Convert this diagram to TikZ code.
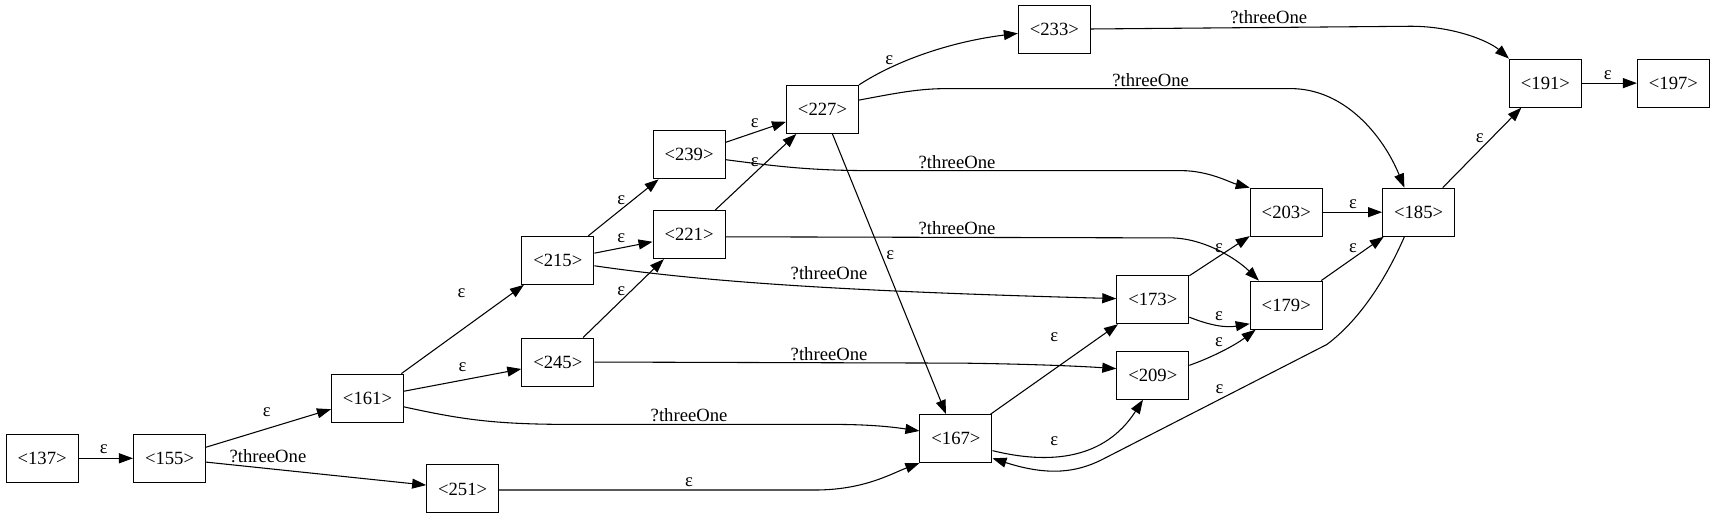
\documentclass[tikz,border=0pt]{standalone}
\usepackage{fontspec}
\setmainfont{Liberation Serif}
\usetikzlibrary{arrows.meta,calc}
\begin{document}
\begin{tikzpicture}[x=0.8203pt,y=-0.8203pt,
  st/.style={draw,line width=0.8pt,rectangle,minimum width=54pt,minimum height=36pt,inner sep=1pt,font=\fontsize{14pt}{16pt}\selectfont},
  e/.style={line width=0.8pt,-{Triangle[length=10.5pt,width=7.5pt]}},
  lbl/.style={inner sep=0pt,font=\fontsize{14pt}{16pt}\selectfont}]
\useasboundingbox (0,0) rectangle (1568,475);
% nodes
\node[st] (n137) at (38.5,419) {<137>};
\node[st] (n155) at (155,419) {<155>};
\node[st] (n161) at (336,364) {<161>};
\node[st] (n251) at (423,447) {<251>};
\node[st] (n215) at (510,238) {<215>};
\node[st] (n245) at (510,331) {<245>};
\node[st] (n239) at (630,141.5) {<239>};
\node[st] (n221) at (630,214.5) {<221>};
\node[st] (n227) at (752,100) {<227>};
\node[st] (n233) at (964,27) {<233>};
\node[st] (n167) at (874,401) {<167>};
\node[st] (n173) at (1054,274) {<173>};
\node[st] (n209) at (1054,343) {<209>};
\node[st] (n203) at (1176,194) {<203>};
\node[st] (n179) at (1176,279) {<179>};
\node[st] (n185) at (1297,194) {<185>};
\node[st] (n191) at (1413,76) {<191>};
\node[st] (n197) at (1530,76) {<197>};
% edges
\draw[e] (n137) -- (n155) node[lbl,at={(95,411)}] {ε};
\draw[e] (n155) -- (n161) node[lbl,at={(244,377)}] {ε};
\draw[e] (n155) -- (n251) node[lbl,at={(245,417)}] {?threeOne};
\draw[e] (n161) -- (n215) node[lbl,at={(422,268)}] {ε};
\draw[e] (n161) -- (n245) node[lbl,at={(423,336)}] {ε};
\draw[e] (n161.east |- 0,372) .. controls (420,383) and (450,388) .. (520,388) -- (760,388) .. controls (800,388) and (820,391) .. (n167.west |- 0,394) node[lbl,at={(630,380)}] {?threeOne};
\draw[e] (n251.east |- 0,448) -- (745,448) .. controls (790,448) and (815,433) .. (n167.south west) node[lbl,at={(630,441)}] {ε};
\draw[e] (n215) -- (n239) node[lbl,at={(568,183)}] {ε};
\draw[e] (n215) -- (n221) node[lbl,at={(568,218)}] {ε};
\draw[e] (n215.east |- 0,243) .. controls (640,257) and (760,266) .. (n173.west |- 0,273) node[lbl,at={(758,250)}] {?threeOne};
\draw[e] (n245) -- (n221) node[lbl,at={(568,266)}] {ε};
\draw[e] (n245.east |- 0,331) -- (880,332) .. controls (950,333) and (990,335) .. (n209.west |- 0,337) node[lbl,at={(758,324)}] {?threeOne};
\draw[e] (n239) -- (n227) node[lbl,at={(690,113)}] {ε};
\draw[e] (n239.east |- 0,146) .. controls (710,152) and (740,156) .. (798,156) -- (1080,156) .. controls (1105,156) and (1125,167) .. (n203.north west) node[lbl,at={(875,148.5)}] {?threeOne};
\draw[e] (n221) -- (n227) node[lbl,at={(690,148)}] {ε};
\draw[e] (n221.east |- 0,216.5) -- (1070,217.5) .. controls (1100,217.5) and (1130,236) .. (1151,0 |- n179.north) node[lbl,at={(875,209)}] {?threeOne};
\draw[e] (n227.north east) .. controls (820,55) and (870,38) .. (n233.west |- 0,30.5) node[lbl,at={(813,55)}] {ε};
\draw[e] (n227.east |- 0,91.5) .. controls (820,85) and (840,81) .. (866,81) -- (1180,81) .. controls (1230,81) and (1265,125) .. (1284,0 |- n185.north) node[lbl,at={(1052,73)}] {?threeOne};
\draw[e] (n227) -- (n167) node[lbl,at={(814,233)}] {ε};
\draw[e] (n233.east |- 0,26.5) -- (1290,24) .. controls (1330,24) and (1362,38) .. (n191.north west) node[lbl,at={(1160,16)}] {?threeOne};
\draw[e] (n191) -- (n197) node[lbl,at={(1470,69)}] {ε};
\draw[e] (n185) -- (n191) node[lbl,at={(1353,126)}] {ε};
\draw[e] (n203) -- (n185) node[lbl,at={(1237,186.5)}] {ε};
\draw[e] (n179) -- (n185) node[lbl,at={(1237,227)}] {ε};
\draw[e] (n173) -- (n203) node[lbl,at={(1114.5,226.5)}] {ε};
\draw[e] (n173.east |- 0,290) .. controls (1105,297) and (1120,300) .. (n179.west |- 0,296) node[lbl,at={(1114.5,289)}] {ε};
\draw[e] (n209.east |- 0,334) .. controls (1110,326) and (1130,315) .. (1148,0 |- n179.south) node[lbl,at={(1114.5,312.5)}] {ε};
\draw[e] (n167) -- (n173) node[lbl,at={(964,308)}] {ε};
\draw[e] (n167.east |- 0,412) .. controls (960,425) and (1010,420) .. (1045,0 |- n209.south) node[lbl,at={(964,403)}] {ε};
\draw[e] (1284,0 |- n185.south) .. controls (1265,260) and (1240,295) .. (1213,315) -- (1006,421) .. controls (985,431) and (960,436) .. (n167.east |- 0,419) node[lbl,at={(1115,356)}] {ε};
\end{tikzpicture}
\end{document}
